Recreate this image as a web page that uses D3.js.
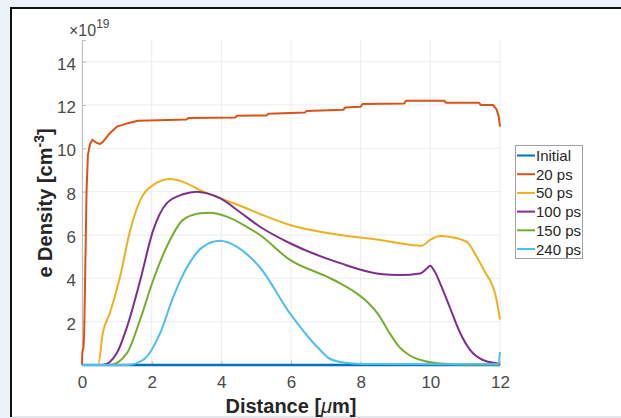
<!DOCTYPE html>
<html>
<head>
<meta charset="utf-8">
<script src="https://cdn.jsdelivr.net/npm/d3@7"></script>
<style>
  html, body { margin: 0; padding: 0; background: #ebf2fa; }
  svg { display: block; }
  text { font-family: "Liberation Sans", Arial, sans-serif; }
</style>
</head>
<body>
<div id="visHolder"></div>
<script>
let width = 621;
let height = 418;

// series names, colours
const seriesNames = ["Initial", "20 ps", "50 ps", "100 ps", "150 ps", "240 ps"];
const seriesColors = ["#0072BD", "#D95319", "#EDB120", "#7E2F8E", "#77AC30", "#4DBEEE"];

const xTicks = [0, 2, 4, 6, 8, 10, 12];
const yTicks = [2, 4, 6, 8, 10, 12, 14];

// values, y in units of 1e19 cm^-3
const initialX = [0, 12];
const initialY = [0, 0];

const ps20X = [0, 0.01, 0.04, 0.06, 0.09, 0.13, 0.17, 0.23, 0.3, 0.42, 0.52, 0.6, 0.8, 1.0, 1.3, 1.6, 2.2,
    3.0, 3.05, 4.4, 4.45, 5.3, 5.35, 6.4, 6.45, 7.5, 7.55, 8.0, 8.05, 9.25, 9.3, 10.4, 10.45, 11.4, 11.45, 11.8, 11.9, 11.96, 12.0];
const ps20Y = [0, 0.6, 0.8, 1.3, 4.0, 8.0, 9.7, 10.2, 10.4, 10.25, 10.2, 10.3, 10.7, 11.0, 11.15, 11.27, 11.3,
    11.33, 11.4, 11.42, 11.5, 11.52, 11.6, 11.65, 11.72, 11.78, 11.88, 11.92, 12.05, 12.07, 12.2, 12.2, 12.1, 12.1, 12.0, 12.0, 11.8, 11.5, 11.0];

const ps50X = [0, 0.46, 0.6, 0.8, 1.09, 1.38, 1.67, 2.04, 2.53, 2.9, 3.39, 3.96, 4.54, 5.11, 5.97, 7.41, 8.56, 9.0, 9.75,
    9.99, 10.28, 10.6, 11.04, 11.33, 11.62, 11.71, 11.86, 12.0];
const ps50Y = [0, 0, 1.5, 2.4, 4.05, 6.2, 7.6, 8.3, 8.58, 8.45, 8.07, 7.7, 7.35, 6.97, 6.46, 6.0, 5.77, 5.65, 5.5,
    5.77, 5.95, 5.9, 5.69, 5.0, 4.15, 3.92, 3.3, 2.1];

const ps100X = [0, 0.6, 1.0, 1.29, 1.67, 2.04, 2.43, 2.9, 3.3, 3.6, 3.96, 4.54, 5.11, 5.97, 7.41, 8.56, 9.13, 9.7, 9.9, 9.99,
    10.13, 10.3, 10.55, 10.85, 11.14, 11.51, 11.9, 12.0];
const ps100Y = [0, 0, 0.55, 1.75, 3.9, 6.2, 7.46, 7.88, 8.0, 7.92, 7.7, 7.05, 6.38, 5.62, 4.7, 4.2, 4.15, 4.22, 4.45, 4.58,
    4.3, 3.7, 2.7, 1.5, 0.7, 0.23, 0.08, 0.05];

const ps150X = [0, 0.8, 1.29, 1.67, 2.04, 2.43, 2.9, 3.39, 3.67, 4.16, 4.73, 5.11, 5.97, 7.0, 7.41, 7.8, 8.2, 8.5, 8.8, 9.1,
    9.4, 9.8, 10.3, 11.0, 12.0];
const ps150Y = [0, 0, 0.55, 2.1, 3.9, 5.45, 6.7, 7.0, 7.03, 6.85, 6.38, 6.0, 4.85, 4.1, 3.77, 3.4, 2.9, 2.35, 1.55, 0.85,
    0.45, 0.2, 0.07, 0.02, 0.02];

const ps240X = [0, 1.29, 1.75, 2.24, 2.61, 3.01, 3.47, 3.96, 4.45, 5.11, 5.97, 6.83, 7.1, 7.55, 8.0, 11.95, 12.0];
const ps240Y = [0, 0, 0.23, 1.46, 3.1, 4.5, 5.45, 5.73, 5.45, 4.5, 2.38, 0.7, 0.3, 0.1, 0.05, 0.03, 0.6];

const seriesX = [initialX, ps20X, ps50X, ps100X, ps150X, ps240X];
const seriesY = [initialY, ps20Y, ps50Y, ps100Y, ps150Y, ps240Y];

let svg = d3.select("#visHolder")
    .append("svg")
    .attr("width", width)
    .attr("height", height);

// white figure panel
svg.append("rect")
    .attr("x", 11).attr("y", 8)
    .attr("width", width - 11).attr("height", 409)
    .attr("fill", "#ffffff");
svg.append("line").attr("x1", 11).attr("x2", 11).attr("y1", 7).attr("y2", 417)
    .attr("stroke", "#111").attr("stroke-width", 2);
svg.append("line").attr("x1", 10).attr("x2", width).attr("y1", 8).attr("y2", 8)
    .attr("stroke", "#111").attr("stroke-width", 2);
svg.append("line").attr("x1", 12).attr("x2", width).attr("y1", 417).attr("y2", 417)
    .attr("stroke", "#cfcfcf").attr("stroke-width", 1);

let plotLeft = 82, plotRight = 500, plotTop = 40, plotBottom = 365;

let xScale = d3.scaleLinear().domain([0, 12]).range([plotLeft, plotRight]);
let yScale = d3.scaleLinear().domain([0, 15]).range([plotBottom, plotTop]);

// grid
let grid = svg.append("g");
grid.selectAll(".gx").data(xTicks).enter().append("line")
    .attr("x1", d => xScale(d)).attr("x2", d => xScale(d))
    .attr("y1", plotTop).attr("y2", plotBottom)
    .attr("stroke", "#ececec").attr("stroke-width", 1);
grid.selectAll(".gy").data(yTicks).enter().append("line")
    .attr("x1", plotLeft).attr("x2", plotRight)
    .attr("y1", d => yScale(d)).attr("y2", d => yScale(d))
    .attr("stroke", "#ececec").attr("stroke-width", 1);

// axes
let tickFont = "17px";
let xAxis = d3.axisBottom(xScale).tickValues(xTicks).tickSize(-4).tickPadding(11).tickFormat(d3.format("d"));
svg.append("g")
    .attr("transform", `translate(0, ${plotBottom})`)
    .call(xAxis)
    .call(g => g.select(".domain").attr("stroke", "#bdbdbd"))
    .call(g => g.selectAll(".tick line").attr("stroke", "#bdbdbd"))
    .call(g => g.selectAll(".tick text").attr("fill", "#4a4a4a").style("font-size", tickFont).style("font-family", "Liberation Sans, Arial"));

let yAxis = d3.axisLeft(yScale).tickValues(yTicks).tickSize(-4).tickPadding(6).tickFormat(d3.format("d"));
svg.append("g")
    .attr("transform", `translate(${plotLeft}, 0)`)
    .call(yAxis)
    .call(g => g.select(".domain").attr("stroke", "#bdbdbd"))
    .call(g => g.selectAll(".tick line").attr("stroke", "#bdbdbd"))
    .call(g => g.selectAll(".tick text").attr("dy", "0.45em").attr("fill", "#4a4a4a").style("font-size", tickFont).style("font-family", "Liberation Sans, Arial"));

// exponent label
let expo = svg.append("text").attr("x", 69).attr("y", 36).attr("fill", "#4a4a4a").style("font-size", "16px");
expo.append("tspan").text("\u00d710");
expo.append("tspan").attr("dy", -8).style("font-size", "12px").text("19");

// lines
let lineGen = d3.line()
    .x(d => xScale(d[0]))
    .y(d => yScale(d[1]));

seriesNames.forEach((name, i) => {
    let pts = seriesX[i].map((x, j) => [x, seriesY[i][j]]);
    svg.append("path")
        .datum(pts)
        .attr("fill", "none")
        .attr("stroke", seriesColors[i])
        .attr("stroke-width", i === 0 ? 2.6 : 2)
        .attr("stroke-linejoin", "round")
        .attr("d", lineGen.curve(i === 1 ? d3.curveLinear : d3.curveMonotoneX));
});

// axis labels
let xl = svg.append("text")
    .attr("x", 291).attr("y", 413)
    .attr("text-anchor", "middle")
    .attr("fill", "#262626")
    .style("font-size", "20px").style("font-weight", "bold");
xl.append("tspan").text("Distance [");
xl.append("tspan").style("font-style", "italic").style("font-weight", "normal").text("\u03bc");
xl.append("tspan").text("m]");

let yl = svg.append("text")
    .attr("transform", "translate(52, 203) rotate(-90)")
    .attr("text-anchor", "middle")
    .attr("fill", "#262626")
    .style("font-size", "20px").style("font-weight", "bold");
yl.append("tspan").text("e Density [cm");
yl.append("tspan").attr("dy", -8).style("font-size", "14px").text("-3");
yl.append("tspan").attr("dy", 8).text("]");

// legend
let legend = svg.append("g");
legend.append("rect")
    .attr("x", 515.5).attr("y", 145.5)
    .attr("width", 67).attr("height", 113)
    .attr("fill", "#fff").attr("stroke", "#a0a0a0").attr("stroke-width", 1);
seriesNames.forEach((name, i) => {
    let y = 155.5 + i * 18.7;
    legend.append("line")
        .attr("x1", 517).attr("x2", 535)
        .attr("y1", y).attr("y2", y)
        .attr("stroke", seriesColors[i]).attr("stroke-width", 2);
    legend.append("text")
        .attr("x", 536).attr("y", y + 5.5)
        .attr("fill", "#262626")
        .style("font-size", "15px")
        .text(name);
});
</script>
</body>
</html>
